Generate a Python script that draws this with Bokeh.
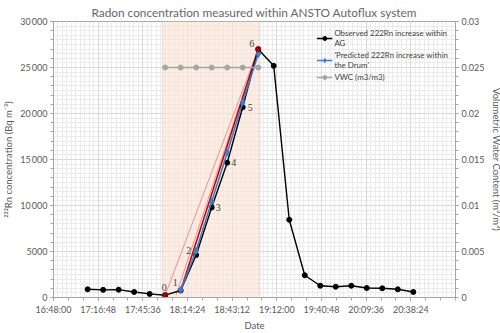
from bokeh.plotting import figure
from bokeh.models import (Range1d, LinearAxis, FixedTicker, BoxAnnotation, Legend, LegendItem,
                          Grid, ColumnDataSource, LabelSet, Title)
from bokeh.embed import file_html
from bokeh.resources import INLINE
from bokeh.core.properties import value

# ---------------- data ----------------
obs_times = ["17:10", "17:20", "17:30", "17:40", "17:50", "18:00", "18:10", "18:20", "18:30", "18:40",
             "18:50", "19:00", "19:10", "19:20", "19:30", "19:40", "19:50", "20:00", "20:10", "20:20",
             "20:30", "20:40"]
obs_vals = [890, 830, 850, 600, 390, 250, 760, 4620, 9790, 14650,
            20680, 26990, 25180, 8450, 2420, 1280, 1170, 1280, 1030, 1000,
            890, 600]

pred_times = ["18:10", "18:20", "18:30", "18:40", "18:50", "19:00"]
pred_vals = [820, 5070, 10430, 15740, 21210, 26460]

vwc_times = ["18:00", "18:10", "18:20", "18:30", "18:40", "18:50", "19:00"]
vwc_vals = [0.025, 0.025, 0.025, 0.025, 0.025, 0.025, 0.025]

point_labels = ["0", "1", "2", "3", "4", "5", "6"]
point_times = ["18:00", "18:10", "18:20", "18:30", "18:40", "18:50", "19:00"]
point_vals = [250, 760, 4620, 9790, 14650, 20680, 26990]

fit_a_times = ["18:00", "19:00"]
fit_a_vals = [250, 26990]
fit_b_times = ["18:07", "19:00"]
fit_b_vals = [250, 26990]
fit_c_times = ["18:10", "19:00"]
fit_c_vals = [760, 26990]
end_times = ["18:00", "19:00"]
end_vals = [250, 26990]

shade_start = "17:58:20"
shade_end = "19:01:00"

x_tick_labels = ["16:48:00", "17:16:48", "17:45:36", "18:14:24", "18:43:12", "19:12:00",
                 "19:40:48", "20:09:36", "20:38:24"]


def day_frac(t):
    parts = [int(v) for v in t.split(":")]
    while len(parts) < 3:
        parts.append(0)
    return (parts[0] * 3600 + parts[1] * 60 + parts[2]) / 86400.0


ox = [day_frac(t) for t in obs_times]
px_ = [day_frac(t) for t in pred_times]
vx = [day_frac(t) for t in vwc_times]
tick_vals = [day_frac(t) for t in x_tick_labels]

FONT = "Lato"
TXT = "#595959"

p = figure(frame_width=402, frame_height=276,
           output_backend="svg", toolbar_location=None,
           x_range=Range1d(0.70, 0.88), y_range=Range1d(0, 30000),
           min_border_left=2, min_border_right=2, min_border_top=0, min_border_bottom=0)
p.title = Title(text="Radon concentration measured within ANSTO Autoflux system", align="center",
                text_font=FONT, text_font_size="11.8px", text_font_style="normal", text_color="#666666",
                standoff=4)
p.extra_y_ranges = {"vwc": Range1d(0, 0.03)}
p.outline_line_color = "#a6a6a6"
p.background_fill_color = "white"

# grids
p.xgrid.ticker = FixedTicker(ticks=tick_vals)
p.ygrid.ticker = FixedTicker(ticks=[0, 5000, 10000, 15000, 20000, 25000, 30000])
p.xgrid.grid_line_color = "#d9d9d9"
p.ygrid.grid_line_color = "#d9d9d9"

mesh_x = [0.70 + i * 0.002 for i in range(91)]
mesh_y = [i * 500 for i in range(61)]
gx = Grid(dimension=0, ticker=FixedTicker(ticks=mesh_x), grid_line_color="#ebebeb", level="underlay")
gy = Grid(dimension=1, ticker=FixedTicker(ticks=mesh_y), grid_line_color="#ebebeb", level="underlay")
p.renderers.insert(0, gx)
p.renderers.insert(0, gy)

# shaded region
box = BoxAnnotation(left=day_frac(shade_start), right=day_frac(shade_end),
                    fill_color="#fbe3d4", fill_alpha=0.6, line_color="#a6a6a6", line_width=1,
                    level="underlay")
p.add_layout(box)

# axes
xa = p.xaxis[0]
xa.ticker = FixedTicker(ticks=tick_vals,
                        minor_ticks=[0.70 + i * 0.02 / 3 for i in range(28)])
xa.major_label_overrides = {v: l for v, l in zip(tick_vals, x_tick_labels)}
xa.axis_label = "Date"

ya = p.yaxis[0]
ya.ticker = FixedTicker(ticks=[0, 5000, 10000, 15000, 20000, 25000, 30000],
                        minor_ticks=[i * 1000 for i in range(31)])
ya.major_label_overrides = {0: "0", 5000: "5000", 10000: "10\u2009000", 15000: "15\u2009000",
                            20000: "20\u2009000", 25000: "25\u2009000", 30000: "30\u2009000"}
ya.axis_label = "\u00b2\u00b2\u00b2Rn concentration (Bq m\u207b\u00b3)"

ra = LinearAxis(y_range_name="vwc",
                ticker=FixedTicker(ticks=[0, 0.005, 0.01, 0.015, 0.02, 0.025, 0.03],
                                   minor_ticks=[i * 0.001 for i in range(31)]),
                axis_label="Volumetric Water Content (m\u00b3/m\u00b3)")
ra.major_label_overrides = {0: "0", 0.005: "0.005", 0.01: "0.01", 0.015: "0.015",
                            0.02: "0.02", 0.025: "0.025", 0.03: "0.03"}
p.add_layout(ra, "right")

for ax in [xa, ya, ra]:
    ax.axis_line_color = "#a6a6a6"
    ax.major_tick_line_color = "#a6a6a6"
    ax.minor_tick_line_color = "#a6a6a6"
    ax.major_tick_out = 3
    ax.major_tick_in = 0
    ax.minor_tick_out = 3
    ax.minor_tick_in = 0
    ax.major_label_text_font = FONT
    ax.major_label_text_font_size = "9px"
    ax.major_label_text_color = TXT
    ax.axis_label_text_font = FONT
    ax.axis_label_text_font_size = "9.5px"
    ax.axis_label_text_font_style = "normal"
    ax.axis_label_text_color = TXT
    ax.major_label_standoff = 3
    ax.axis_label_standoff = 3
xa.axis_label_standoff = 2

# fit lines
p.line([day_frac(t) for t in fit_a_times], fit_a_vals, line_color="#ff8a8a", line_width=1)
p.line([day_frac(t) for t in fit_b_times], fit_b_vals, line_color="#ff8a8a", line_width=1)
p.line([day_frac(t) for t in fit_c_times], fit_c_vals, line_color="#c00000", line_width=1.5)

# series
l_obs = p.line(ox, obs_vals, line_color="black", line_width=1.4)
s_obs = p.scatter(ox, obs_vals, marker="circle", size=5, fill_color="black", line_color="black")
l_pred = p.line(px_, pred_vals, line_color="#3d7cc9", line_width=1.6)
s_pred = p.scatter(px_, pred_vals, marker="diamond", size=7, fill_color="#3d7cc9", line_color="#3d7cc9")
l_vwc = p.line(vx, vwc_vals, line_color="#a5a5a5", line_width=1.5, y_range_name="vwc")
s_vwc = p.scatter(vx, vwc_vals, marker="circle", size=5, fill_color="#a5a5a5", line_color="#a5a5a5",
                  y_range_name="vwc")
p.scatter([day_frac(t) for t in end_times], end_vals, marker="square", size=4,
          fill_color="#a00000", line_color="#a00000")

# point labels
lab_src = ColumnDataSource(dict(x=[day_frac(t) for t in point_times], y=point_vals, t=point_labels,
                                xo=[-1, -3, -5, 4, 4, 5, -4], yo=[4, 5, 1, 0, 0, 0, 2],
                                al=["center", "right", "right", "left", "left", "left", "right"],
                                bl=["bottom", "bottom", "bottom", "middle", "middle", "middle", "bottom"]))
labels = LabelSet(x="x", y="y", text="t", source=lab_src, x_offset="xo", y_offset="yo",
                  text_align="al", text_baseline="bl", text_font=value("Liberation Serif"),
                  text_font_size="10px", text_color="#404040")
p.add_layout(labels)

legend = Legend(items=[
    LegendItem(label="Observed 222Rn increase within\nAG", renderers=[l_obs, s_obs]),
    LegendItem(label="'Predicted 222Rn increase within\nthe Drum'", renderers=[l_pred, s_pred]),
    LegendItem(label="VWC (m3/m3)", renderers=[l_vwc, s_vwc]),
], location="top_right")
legend.background_fill_alpha = 0
legend.border_line_alpha = 0
legend.label_text_font = FONT
legend.label_text_font_size = "7.9px"
legend.label_text_line_height = 1.5
legend.label_text_color = "#404040"
legend.label_height = 10
legend.glyph_width = 16
legend.glyph_height = 10
legend.spacing = 2
legend.padding = 3
legend.margin = 4
legend.label_standoff = 2
p.add_layout(legend)

open("out.html", "w").write(file_html(p, INLINE))
